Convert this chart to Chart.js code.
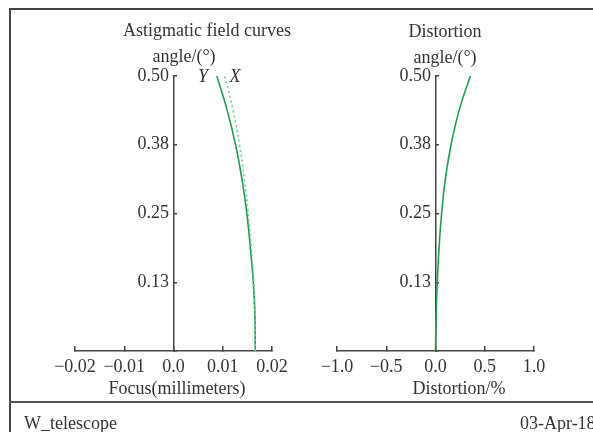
<!DOCTYPE html>
<html>
<head>
<meta charset="utf-8">
<script src="https://cdn.jsdelivr.net/npm/chart.js@4.4.1/dist/chart.umd.min.js"></script>
<style>
  body { margin: 0; width: 593px; height: 432px; overflow: hidden; background: #fff; position: relative;
         font-family: "Liberation Serif", "Times New Roman", serif; color: #333; }
  canvas { position: absolute; top: 0; }
  #c1 { left: 0; }
  #c2 { left: 300px; }
  .frame { position: absolute; left: 9px; top: 8px; width: 600px; height: 430px;
           border-top: 2px solid #444; border-left: 2px solid #444; }
  .sep { position: absolute; left: 9px; top: 401px; width: 600px; height: 0; border-top: 2px solid #555; }
  .t { position: absolute; font-size: 18px; line-height: 1; white-space: nowrap; transform: translate(-50%, -50%); }
  .l { position: absolute; font-size: 18px; line-height: 1; white-space: nowrap; transform: translateY(-50%); }
  .i { font-style: italic; }
</style>
</head>
<body>
<canvas id="c1" width="300" height="432"></canvas>
<canvas id="c2" width="293" height="432"></canvas>
<div class="frame"></div>
<div class="sep"></div>
<div class="t" style="left:207px; top:30px;">Astigmatic field curves</div>
<div class="t" style="left:184px; top:56px;">angle/(°)</div>
<div class="t i" style="left:203px; top:76px;">Y</div>
<div class="t i" style="left:235px; top:76px;">X</div>
<div class="t" style="left:177px; top:388px;">Focus(millimeters)</div>
<div class="t" style="left:445px; top:31px;">Distortion</div>
<div class="t" style="left:445px; top:57px;">angle/(°)</div>
<div class="t" style="left:459px; top:388px;">Distortion/%</div>
<div class="l" style="left:24px; top:423px;">W_telescope</div>
<div class="l" style="left:520px; top:423px;">03-Apr-18</div>
<script>
// field angle samples (degrees)
const angles = [0, 0.0625, 0.125, 0.1875, 0.25, 0.3125, 0.375, 0.4375, 0.5];
// astigmatic field curves, focus shift (mm)
const focusY = [0.0166, 0.01655, 0.0162, 0.0156, 0.0149, 0.0139, 0.0126, 0.0109, 0.0088];
const focusX = [0.0166, 0.01655, 0.0163, 0.0158, 0.0152, 0.0144, 0.0134, 0.0121, 0.0104];
// distortion (%)
const distortion = [0, 0.006, 0.018, 0.036, 0.062, 0.100, 0.158, 0.240, 0.354];

const axisColor = "#444";
const green = "#1f9e50";
const lightGreen = "#74c98a";
const font = { family: "'Liberation Serif', 'Times New Roman', serif", size: 18 };

function minus(s) { return s.replace("-", "\u2212"); }

function pts(xs) { return angles.map((a, i) => ({ x: xs[i], y: a })); }

function yAxis() {
  return {
    type: "linear", min: 0, max: 0.5, position: { x: 0 },
    ticks: {
      stepSize: 0.125, color: "#333", font: font,
      // axis sits at a data position, so labels get no padding: add a trailing space
      callback: v => v === 0 ? "" : v.toFixed(2) + " "
    },
    grid: { drawOnChartArea: false, tickLength: -4, color: axisColor, lineWidth: 1.5 },
    border: { color: axisColor, width: 1.5 }
  };
}

function xAxis(min, max, step, digits) {
  return {
    type: "linear", min: min, max: max, position: "bottom",
    ticks: {
      stepSize: step, color: "#333", font: font, padding: 10, maxRotation: 0,
      callback: v => v === 0 ? "0.0" : minus(v.toFixed(digits))
    },
    grid: { drawOnChartArea: false, tickLength: -5, color: axisColor, lineWidth: 1.5 },
    border: { color: axisColor, width: 1.5 },
    afterFit: s => { s.height = 50; }
  };
}

function common(padding) {
  return {
    responsive: false, animation: false,
    layout: { padding: padding },
    plugins: { legend: { display: false }, tooltip: { enabled: false } },
    elements: { point: { radius: 0 }, line: { tension: 0.4 } }
  };
}

const opt1 = common({ left: 75, right: 28, top: 76, bottom: 31 });
opt1.scales = { x: xAxis(-0.02, 0.02, 0.01, 2), y: yAxis() };
new Chart(document.getElementById("c1"), {
  type: "scatter",
  data: {
    datasets: [
      { label: "X", data: pts(focusX), showLine: true, borderColor: lightGreen, borderWidth: 1.6, borderDash: [2, 3] },
      { label: "Y", data: pts(focusY), showLine: true, borderColor: green, borderWidth: 1.6 }
    ]
  },
  options: opt1
});

const opt2 = common({ left: 37, right: 59, top: 76, bottom: 31 });
opt2.scales = { x: xAxis(-1, 1, 0.5, 1), y: yAxis() };
new Chart(document.getElementById("c2"), {
  type: "scatter",
  data: {
    datasets: [
      { label: "Distortion", data: pts(distortion), showLine: true, borderColor: green, borderWidth: 1.6 }
    ]
  },
  options: opt2
});
</script>
</body>
</html>
